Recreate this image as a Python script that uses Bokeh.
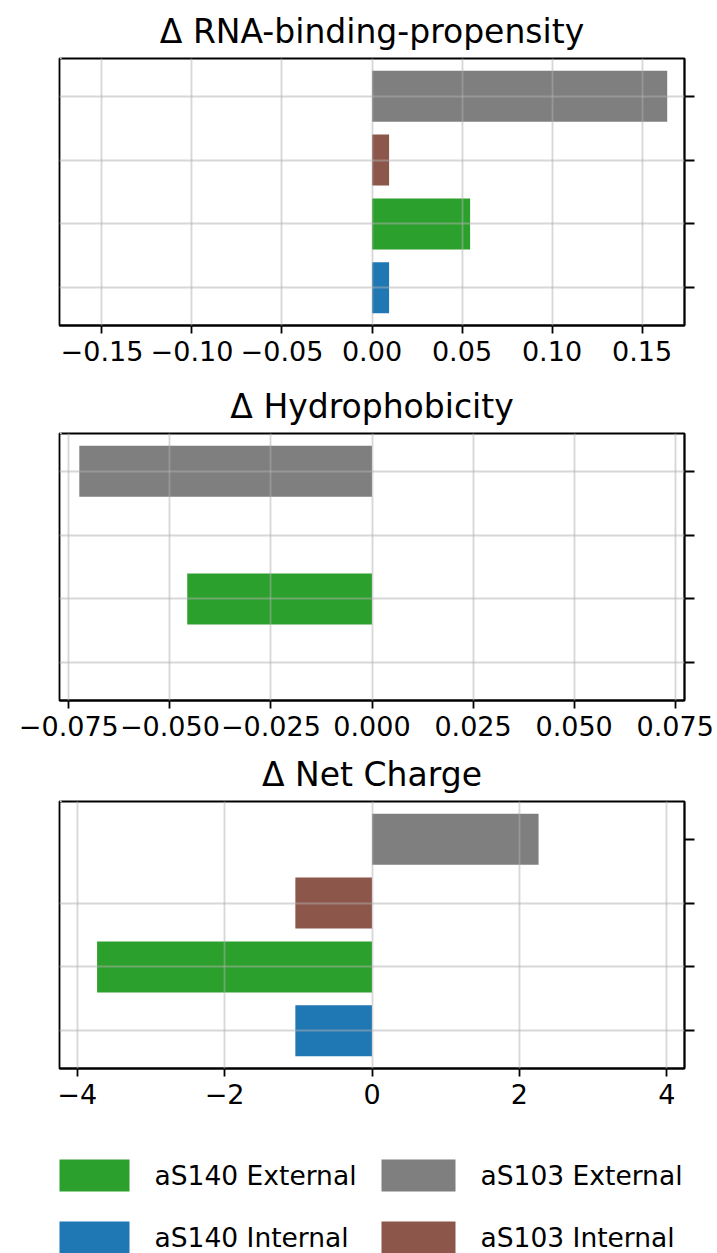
from bokeh.plotting import figure
from bokeh.layouts import column
from bokeh.models import Range1d, ColumnDataSource, FixedTicker, Title
from bokeh.core.properties import value
from bokeh.embed import file_html
from bokeh.resources import INLINE

# ---------------- data ----------------
categories = ["aS140 Internal", "aS140 External", "aS103 Internal", "aS103 External"]
colors = ["#1f77b4", "#2ca02c", "#8c564b", "#7f7f7f"]

rna_values = [0.0095, 0.0545, 0.0095, 0.1640]
hydro_values = [0.0, -0.0457, 0.0, -0.0724]
charge_values = [-1.04, -3.73, -1.04, 2.26]

rna_ticks = [-0.15, -0.10, -0.05, 0, 0.05, 0.10, 0.15]
rna_tick_labels = ["\u22120.15", "\u22120.10", "\u22120.05", "0.00", "0.05", "0.10", "0.15"]
hydro_ticks = [-0.075, -0.05, -0.025, 0, 0.025, 0.05, 0.075]
hydro_tick_labels = ["\u22120.075", "\u22120.050", "\u22120.025", "0.000", "0.025", "0.050", "0.075"]
charge_ticks = [-4, -2, 0, 2, 4]
charge_tick_labels = ["\u22124", "\u22122", "0", "2", "4"]

titles = ["\u0394 RNA-binding-propensity", "\u0394 Hydrophobicity", "\u0394 Net Charge"]
x_limits = [0.1736, 0.0773, 4.24]

legend_columns = [["aS140 External", "aS140 Internal"], ["aS103 External", "aS103 Internal"]]

FONT = "DejaVu Sans"
FRAME_W, FRAME_H = 625, 267
BORDER_L, BORDER_R = 59, 33


def make_panel(title, values, ticks, tick_labels, xlim, top_border, bottom_border, grid_rows):
    ypos = list(range(len(categories)))
    src = ColumnDataSource(dict(y=ypos, v=values, c=colors, name=categories))
    p = figure(width=BORDER_L + FRAME_W + BORDER_R, height=top_border + FRAME_H + bottom_border,
               output_backend="svg", toolbar_location=None,
               x_range=Range1d(-xlim, xlim), y_range=Range1d(-0.59, len(categories) - 0.41),
               min_border_left=BORDER_L, min_border_right=BORDER_R, min_border_top=top_border,
               min_border_bottom=bottom_border, y_axis_location="right")
    p.hbar(y="y", left=0, right="v", height=0.8, fill_color="c", line_color=None, source=src)

    # white spacer next to the frame keeps the (outermost) plot title off the frame
    p.add_layout(Title(text=".", text_font_size="9px", text_color="white", standoff=0), "above")

    p.title.text = title
    p.title.align = "center"
    p.title.text_font = FONT
    p.title.text_font_size = "33px"
    p.title.text_font_style = "normal"
    p.title.text_color = "black"
    p.title.standoff = 0

    p.outline_line_color = "black"
    p.outline_line_width = 1.8
    p.outline_line_alpha = 1.0

    xa = p.xaxis[0]
    xa.ticker = FixedTicker(ticks=ticks)
    xa.major_label_overrides = {t: l for t, l in zip(ticks, tick_labels)}
    xa.major_label_text_font = FONT
    xa.major_label_text_font_size = "27px"
    xa.major_label_text_color = "black"
    xa.major_label_standoff = 7
    xa.major_tick_out = 8
    xa.major_tick_in = 0
    xa.major_tick_line_width = 1.8
    xa.major_tick_line_color = "black"
    xa.minor_tick_line_color = None
    xa.axis_line_color = "black"
    xa.axis_line_width = 1.8

    ya = p.yaxis[0]
    ya.ticker = FixedTicker(ticks=ypos)
    ya.major_label_text_color = None
    ya.major_label_text_font_size = "8px"
    ya.major_label_standoff = 0
    ya.major_tick_out = 10
    ya.major_tick_in = 0
    ya.major_tick_line_width = 1.8
    ya.major_tick_line_color = "black"
    ya.minor_tick_line_color = None
    ya.axis_line_color = "black"
    ya.axis_line_width = 1.8

    p.xgrid.ticker = FixedTicker(ticks=ticks)
    p.ygrid.ticker = FixedTicker(ticks=grid_rows)
    for g in (p.xgrid[0], p.ygrid[0]):
        g.grid_line_color = "#b0b0b0"
        g.grid_line_alpha = 0.5
        g.grid_line_width = 1.8
        g.level = "annotation"
    return p


p1 = make_panel(titles[0], rna_values, rna_ticks, rna_tick_labels, x_limits[0], 58, 50, [0, 1, 2, 3])
p2 = make_panel(titles[1], hydro_values, hydro_ticks, hydro_tick_labels, x_limits[1], 58, 47, [0, 1, 2, 3])
p3 = make_panel(titles[2], charge_values, charge_ticks, charge_tick_labels, x_limits[2], 54, 50, [0, 1, 2])

# ---------------- legend strip (pixel coordinates measured from its top-left) ----------------
LEG_H = 135
col_x = [55, 381]          # left edge of swatches per legend column
row_top = [41, 103]        # top edge of swatches per legend row
sw_w, sw_h, txt_gap = 74, 32, 25

lp = figure(width=BORDER_L + FRAME_W + BORDER_R, height=LEG_H, output_backend="svg",
            toolbar_location=None,
            x_range=Range1d(BORDER_L, BORDER_L + FRAME_W), y_range=Range1d(LEG_H, 0),
            min_border_left=BORDER_L, min_border_right=BORDER_R, min_border_top=0,
            min_border_bottom=0, x_axis_location=None, y_axis_location=None)
lp.outline_line_color = None
lp.xgrid.visible = False
lp.ygrid.visible = False

color_of = dict(zip(categories, colors))
sx, sy, scol, tx, tl = [], [], [], [], []
for ci, names in enumerate(legend_columns):
    for ri, n in enumerate(names):
        sx.append(col_x[ci] + sw_w / 2)
        sy.append(row_top[ri] + sw_h / 2)
        scol.append(color_of[n])
        tx.append(col_x[ci] + sw_w + txt_gap)
        tl.append(n)
lsrc = ColumnDataSource(dict(x=sx, y=sy, c=scol, tx=tx, label=tl))
lp.rect(x="x", y="y", width=sw_w, height=sw_h, fill_color="c", line_color=None, source=lsrc)
lp.text(x="tx", y="y", text="label", source=lsrc, text_font=value(FONT), text_font_size="26.5px",
        text_baseline="middle", text_align="left", text_color="black")

layout = column(p1, p2, p3, lp, spacing=0)
open("out.html", "w").write(file_html(layout, INLINE))
